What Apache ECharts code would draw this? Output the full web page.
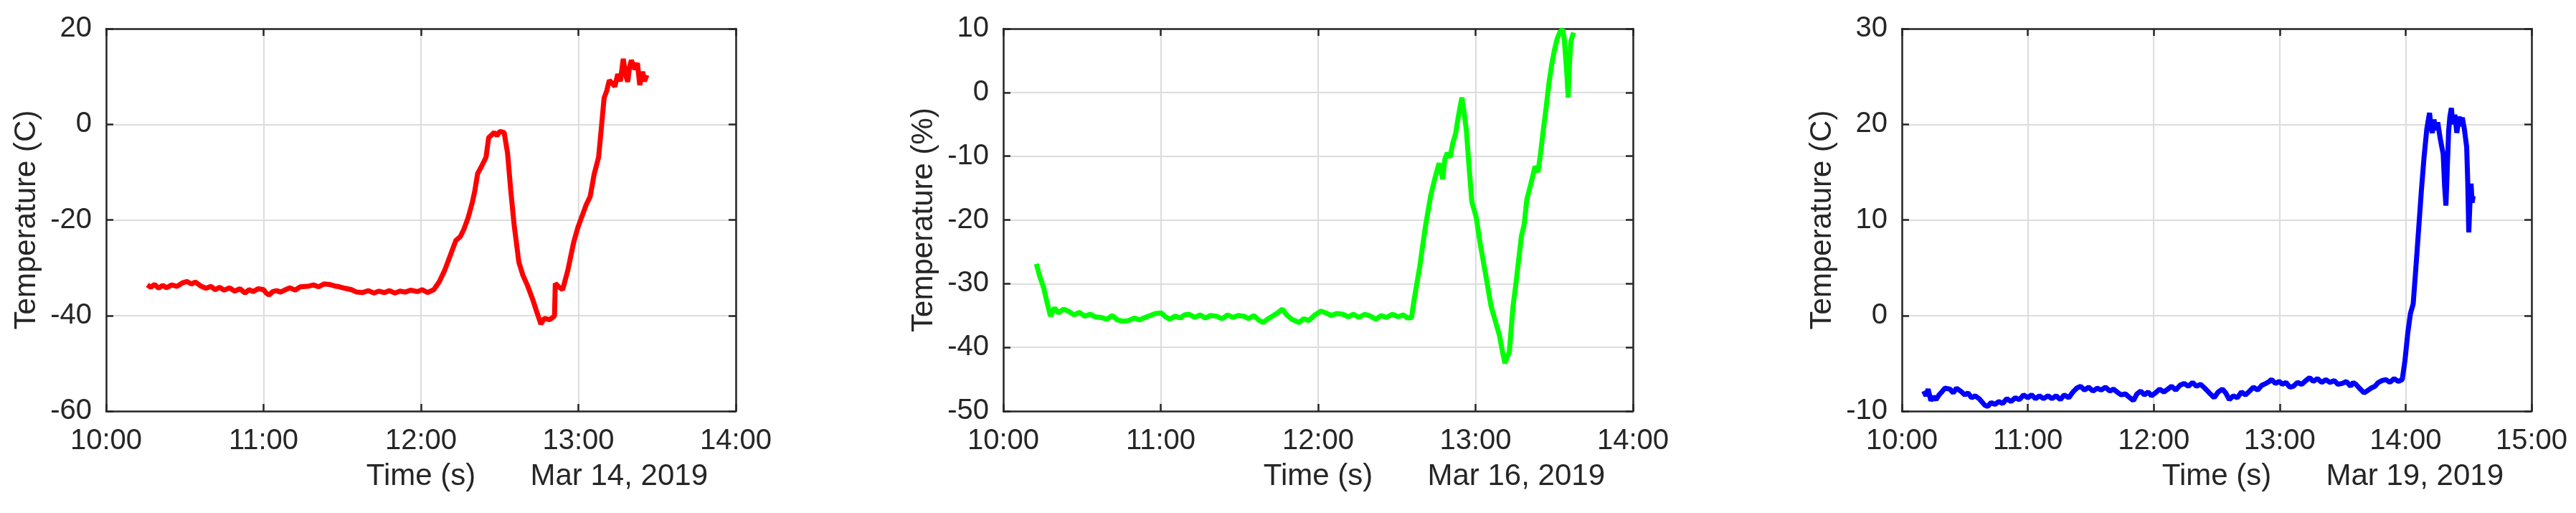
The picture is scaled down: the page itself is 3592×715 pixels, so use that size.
<!DOCTYPE html>
<html>
<head>
  <meta charset="UTF-8" />
  <title>Temperature logs</title>
  <script src="https://cdn.jsdelivr.net/npm/echarts@6/dist/echarts.min.js"></script>
  <style>
    html, body { margin: 0; height: 100%; background: #fff; }
    #main { width: 3592px; height: 715px; }
  </style>
</head>
<body>
  <div id="main"></div>
  <script>
    // time in minutes after midnight, temperature in C (or %)
    const redTime = [615.7, 617, 618.5, 620, 621.5, 623, 625, 627, 629, 630.8, 632.5, 634, 636, 638, 640, 641.5, 643.3, 645, 647, 649, 651, 653, 654.5, 656, 658, 660, 661, 662.1, 663.5, 665, 666.5, 668.4, 670, 672, 674, 676.8, 679, 681, 683, 685.1, 687, 689, 691, 693.5, 695.5, 697.7, 700, 702, 704, 706.1, 708, 710, 712, 714, 716, 718.6, 720.5, 722.5, 724.9, 727, 729, 731.2, 733.3, 735, 736.4, 738, 739.5, 740.5, 741.6, 743, 744.8, 745.8, 747, 747.9, 749, 750, 751.7, 753, 754.2, 755.5, 757.3, 758.8, 760.5, 762.5, 764, 765.7, 767, 769, 770.9, 771.2, 772.5, 774, 776, 778.2, 779.8, 781.4, 783, 784.5, 786, 787.7, 788.8, 789.8, 790.8, 791.8, 793, 793.9, 795, 796, 797.1, 798, 798.8, 799.5, 800.2, 801.5, 802.5, 803.4, 804.5, 805.2, 806.1];
    const redTemp = [-33.6, -34.1, -33.5, -34.3, -33.7, -34.2, -33.6, -33.9, -33.2, -32.9, -33.4, -33.0, -33.8, -34.3, -33.9, -34.6, -34.1, -34.7, -34.2, -34.9, -34.4, -35.3, -34.6, -35.0, -34.4, -34.6, -35.3, -35.7, -35.0, -34.8, -35.1, -34.6, -34.2, -34.7, -34.0, -33.9, -33.6, -34.0, -33.4, -33.5, -33.8, -34.0, -34.3, -34.6, -35.1, -35.2, -34.8, -35.3, -34.9, -35.2, -34.8, -35.3, -34.9, -35.1, -34.7, -35.0, -34.6, -35.2, -34.6, -32.9, -30.6, -27.4, -24.3, -23.5, -21.9, -19.5, -16.5, -14.0, -10.3, -8.9, -6.9, -2.8, -2.2, -1.7, -2.4, -1.5, -1.7, -6.0, -13.7, -21.0, -28.8, -31.5, -33.6, -36.5, -39.0, -41.8, -40.6, -40.9, -40.1, -33.3, -34.0, -34.6, -30.5, -24.7, -21.6, -19.2, -16.8, -15.1, -10.5, -6.9, -0.5, 5.5, 7.0, 9.2, 8.5, 7.9, 10.5, 9.0, 13.7, 10.4, 8.9, 12.0, 13.4, 11.5, 12.8, 8.2, 11.0, 9.0, 10.3];

    const greenTime = [612.6, 614, 615.3, 616.7, 618, 619.5, 621, 623, 624.7, 627, 629, 631, 633.1, 635, 637.3, 639.5, 641.5, 643.5, 645.5, 647.7, 650, 652, 654, 656, 658, 660.3, 661.8, 663.4, 665.5, 667.5, 669, 670.8, 673, 675, 677, 679, 681.2, 683.5, 685.5, 687.5, 689.5, 691.7, 693.5, 695.5, 697.3, 699, 701, 703, 704.8, 706.4, 708, 710, 712.7, 714.5, 716.5, 718.5, 721, 723, 725, 727, 729.4, 731.5, 733.5, 735.5, 737.8, 740, 742, 744, 746, 748.3, 750.5, 752.5, 754, 755.6, 756.6, 758.7, 760.8, 762.9, 764.5, 766.1, 767.5, 768.3, 769.2, 770.3, 771.3, 772.4, 773.4, 774.8, 775.6, 776.5, 777.5, 778.6, 780.2, 781.8, 784, 785.9, 787.5, 789.1, 790.2, 791.2, 792.1, 792.9, 793.6, 794.3, 795.4, 796.4, 797.5, 798.5, 799.6, 801, 802.7, 803.8, 804.8, 805.8, 806.9, 808, 809, 810, 811.1, 812.2, 813.2, 813.8, 814.2, 814.8, 815.3, 815.8, 816.3, 816.9, 817.4];
    const greenTemp = [-26.9, -29.0, -30.5, -33.0, -35.1, -33.8, -34.6, -34.0, -34.3, -34.9, -34.5, -35.1, -34.8, -35.2, -35.3, -35.6, -35.0, -35.7, -35.9, -35.8, -35.4, -35.7, -35.3, -35.0, -34.7, -34.6, -35.2, -35.6, -35.1, -35.4, -34.9, -34.8, -35.3, -34.9, -35.4, -35.0, -35.1, -35.5, -34.9, -35.3, -35.0, -35.1, -35.5, -35.0, -35.7, -36.1, -35.5, -35.0, -34.5, -34.0, -34.9, -35.6, -36.1, -35.5, -35.8, -35.0, -34.3, -34.6, -35.0, -34.7, -34.8, -35.2, -34.8, -35.3, -34.8, -35.1, -35.6, -35.0, -35.3, -34.8, -35.2, -34.9, -35.4, -35.3, -32.5, -27.4, -21.3, -16.2, -13.5, -11.1, -13.6, -10.5, -9.5, -10.2, -8.0, -6.5, -3.9, -0.8, -3.0, -5.9, -11.5, -17.2, -19.5, -23.8, -28.9, -33.5, -35.8, -38.1, -40.5, -42.5, -41.5, -40.7, -37.0, -33.5, -30.0, -26.4, -22.5, -20.8, -16.7, -14.5, -11.6, -12.5, -9.5, -6.0, -2.4, 1.5, 4.3, 6.5, 8.4, 9.5, 9.9, 8.5, 6.3, 3.0, -0.8, 4.5, 7.9, 8.8, 9.4];

    const blueTime = [610.4, 611.5, 612.5, 613.8, 615, 616.3, 617.7, 619, 620.5, 622.9, 624.5, 626, 628, 630, 631.5, 633.2, 635, 636.8, 638.4, 639.6, 641, 642.5, 644.3, 646.2, 648, 650, 652, 654, 656, 658, 660, 661.8, 663.7, 665.5, 667.5, 669.6, 671.5, 673.5, 675.5, 677.4, 679.5, 681.5, 683.3, 685.2, 687, 689, 691, 693, 695, 697, 699, 700.8, 702.5, 704.5, 706.5, 708.6, 710.3, 712, 713.8, 715.5, 717.3, 718.9, 720.8, 722.8, 724.8, 726.7, 728.5, 730.5, 732.5, 734.5, 736.5, 738.5, 740.3, 742.3, 744.3, 746.5, 748.8, 750.7, 752.7, 754.3, 756, 757.9, 759.8, 761.8, 763.7, 765.7, 767.5, 769.5, 771.5, 773.5, 775, 776.1, 778, 779.8, 781.3, 783, 784.8, 786.5, 788.5, 790.5, 792.5, 794.3, 796, 798, 800, 802, 804, 806, 807.8, 809.8, 811.8, 813.8, 815, 816.3, 818, 820.2, 821.5, 823.5, 825.4, 827, 828.8, 830.6, 832.5, 834.5, 836.5, 838.4, 839.7, 841, 842.3, 843.6, 844.9, 846.2, 847.5, 848.8, 850.1, 851.4, 852.1, 852.7, 853.5, 854.3, 855.3, 856.5, 857.9, 858.6, 859.2, 859.8, 860.5, 861.1, 861.8, 862.6, 863.5, 864.4, 865.5, 866.2, 867, 868, 869.1, 869.6, 870.1, 870.6, 871.2, 871.7, 872.2];
    const blueTemp = [-7.9, -8.4, -7.7, -8.9, -8.5, -8.8, -8.3, -8.0, -7.6, -7.7, -8.1, -7.6, -7.9, -8.3, -8.1, -8.6, -8.4, -8.7, -9.1, -9.4, -9.5, -9.1, -9.3, -9.0, -9.2, -8.7, -9.0, -8.6, -8.8, -8.3, -8.6, -8.3, -8.7, -8.4, -8.7, -8.4, -8.7, -8.4, -8.8, -8.3, -8.6, -8.0, -7.6, -7.4, -7.8, -7.5, -7.9, -7.6, -7.8, -7.5, -7.9, -7.7, -8.0, -8.3, -8.2, -8.6, -8.9, -8.2, -7.9, -8.3, -8.0, -8.4, -8.1, -7.7, -8.0, -7.7, -7.4, -7.8, -7.3, -7.1, -7.4, -7.0, -7.4, -7.2, -7.6, -8.1, -8.6, -8.0, -7.7, -8.1, -8.8, -8.4, -8.6, -8.0, -8.3, -7.9, -7.5, -7.8, -7.3, -7.1, -6.9, -6.7, -7.1, -6.9, -7.2, -7.0, -7.5, -7.4, -7.0, -7.2, -6.8, -6.5, -6.9, -6.6, -7.0, -6.7, -7.0, -6.8, -7.2, -7.1, -6.9, -7.4, -7.0, -7.2, -7.6, -8.1, -7.9, -7.6, -7.4, -7.0, -6.8, -6.7, -7.0, -6.6, -6.9, -6.7, -4.7, -1.9, 0.2, 1.2, 5.0, 9.0, 13.0, 16.6, 19.5, 21.2, 19.8, 19.1, 20.5, 19.4, 20.2, 18.5, 16.9, 13.5, 11.5, 15.0, 19.3, 20.8, 21.7, 20.0, 21.0, 19.1, 20.8, 19.8, 20.7, 19.5, 17.6, 14.0, 8.7, 11.5, 13.8, 11.8, 12.5];

    const panels = [
      { time: redTime, temp: redTemp, color: '#ff0000', yName: 'Temperature (C)', date: 'Mar 14, 2019',
        xMin: 600, xMax: 840, yMin: -60, yMax: 20, yStep: 20, left: 148 },
      { time: greenTime, temp: greenTemp, color: '#00ff00', yName: 'Temperature (%)', date: 'Mar 16, 2019',
        xMin: 600, xMax: 840, yMin: -50, yMax: 10, yStep: 10, left: 1399 },
      { time: blueTime, temp: blueTemp, color: '#0000ff', yName: 'Temperature (C)', date: 'Mar 19, 2019',
        xMin: 600, xMax: 900, yMin: -10, yMax: 30, yStep: 10, left: 2652 }
    ];

    const TOP = 40, HEIGHT = 533, WIDTH = 878;
    const ink = '#262626';
    const font = '"Liberation Sans", Arial, Helvetica, sans-serif';

    function hhmm(v) {
      const h = Math.floor(v / 60), m = Math.round(v % 60);
      return h + ':' + (m < 10 ? '0' + m : m);
    }

    const frame = { show: true, onZero: false, lineStyle: { color: ink, width: 2.5 } };
    const tick = { show: true, inside: true, length: 10, lineStyle: { color: ink, width: 2.5 } };
    const grid_ = { show: true, lineStyle: { color: '#dcdcdc', width: 2 } };

    const grids = [], xAxes = [], yAxes = [], series = [], graphics = [];
    panels.forEach((p, i) => {
      grids.push({ left: p.left, top: TOP, width: WIDTH, height: HEIGHT });
      // bottom and top x axes
      xAxes.push({
        type: 'value', gridIndex: i, min: p.xMin, max: p.xMax, interval: 60, position: 'bottom',
        axisLine: frame, axisTick: tick, splitLine: grid_,
        axisLabel: { formatter: hhmm, color: ink, fontSize: 40, fontFamily: font, margin: 22 },
        name: 'Time (s)', nameLocation: 'middle', nameGap: 70,
        nameTextStyle: { color: ink, fontSize: 42, fontFamily: font }
      });
      xAxes.push({
        type: 'value', gridIndex: i, min: p.xMin, max: p.xMax, interval: 60, position: 'top',
        axisLine: frame, axisTick: tick, splitLine: { show: false }, axisLabel: { show: false }
      });
      // left and right y axes
      yAxes.push({
        type: 'value', gridIndex: i, min: p.yMin, max: p.yMax, interval: p.yStep, position: 'left',
        axisLine: frame, axisTick: tick, splitLine: grid_,
        axisLabel: { color: ink, fontSize: 40, fontFamily: font, margin: 20 },
        name: p.yName, nameLocation: 'middle', nameGap: 90,
        nameTextStyle: { color: ink, fontSize: 42, fontFamily: font }
      });
      yAxes.push({
        type: 'value', gridIndex: i, min: p.yMin, max: p.yMax, interval: p.yStep, position: 'right',
        axisLine: frame, axisTick: tick, splitLine: { show: false }, axisLabel: { show: false }
      });
      series.push({
        type: 'line', xAxisIndex: i * 2, yAxisIndex: i * 2, showSymbol: false,
        data: p.time.map((t, k) => [t, p.temp[k]]),
        lineStyle: { color: p.color, width: 7 }, itemStyle: { color: p.color },
        z: 1, animation: false
      });
      graphics.push({
        type: 'text', x: p.left + WIDTH - 39, y: 664,
        style: { text: p.date, fill: ink, fontSize: 42, fontFamily: font, textAlign: 'right', textVerticalAlign: 'middle' }
      });
    });

    const chart = echarts.init(document.getElementById('main'));
    chart.setOption({
      backgroundColor: '#ffffff',
      animation: false,
      grid: grids,
      xAxis: xAxes,
      yAxis: yAxes,
      series: series,
      graphic: graphics
    });
  </script>
</body>
</html>
